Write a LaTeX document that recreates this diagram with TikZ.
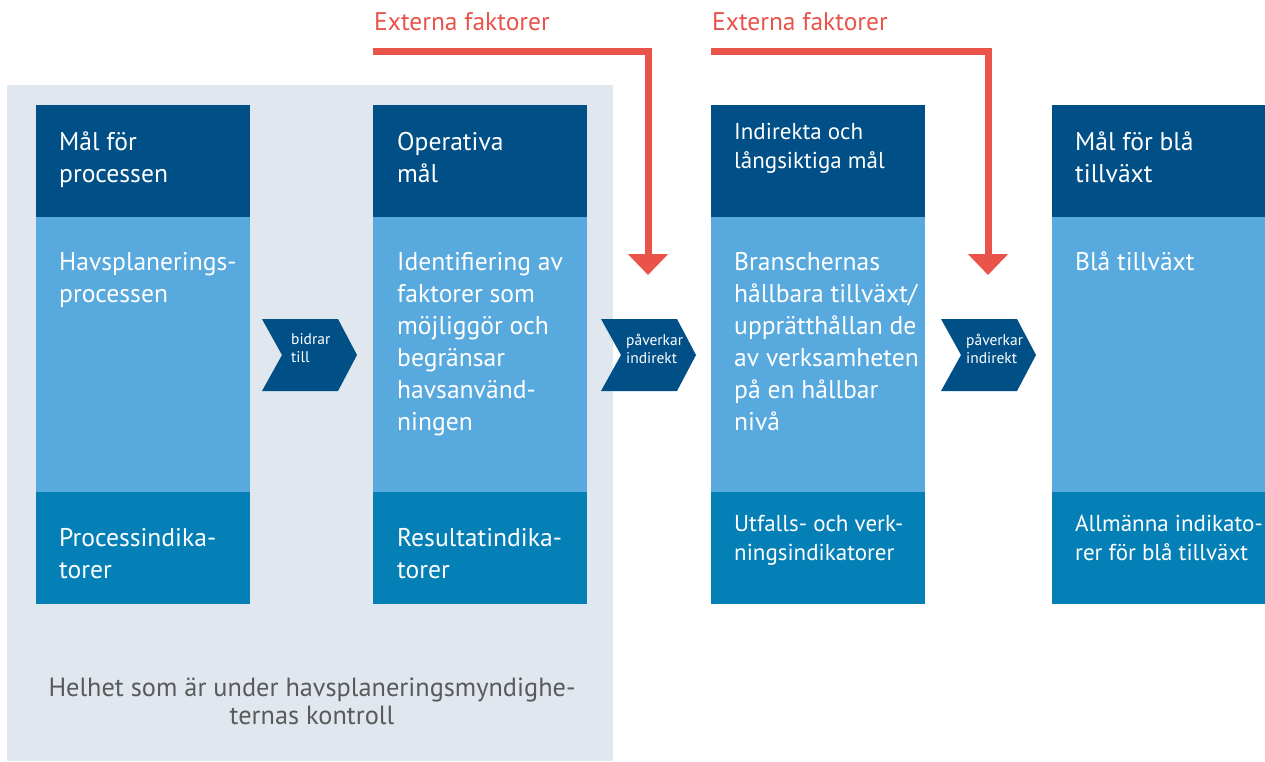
\documentclass[tikz,border=0pt]{standalone}
\usepackage{fontspec}
\setmainfont{PT Sans}
\usetikzlibrary{arrows.meta}
\definecolor{bggray}{HTML}{E1E7EE}
\definecolor{hdblue}{HTML}{005087}
\definecolor{midblue}{HTML}{58A9DE}
\definecolor{botblue}{HTML}{0580B7}
\definecolor{extred}{HTML}{E9534A}
\definecolor{ctrlgray}{HTML}{5A5A5A}
\tikzset{
  txt/.style={anchor=base west, inner sep=0pt, align=left, text=white, font=\fontsize{25.6}{32}\selectfont},
  smtxt/.style={anchor=base west, inner sep=0pt, align=left, text=white, font=\fontsize{23}{29}\selectfont},
  chevtxt/.style={anchor=base west, inner sep=0pt, align=left, text=white, font=\fontsize{15.5}{18}\selectfont},
  chev/.style={fill=hdblue},
  redtxt/.style={anchor=base west, inner sep=0pt, text=extred, font=\fontsize{25.5}{28}\selectfont},
  redarrow/.style={draw=extred, line width=7pt, -{Triangle[width=39pt,length=21pt]}},
}
\begin{document}
\begin{tikzpicture}[x=1pt,y=-1pt]
\useasboundingbox (0,0) rectangle (1265,761);
% gray area
\fill[bggray] (7,85) rectangle (613,761);
% columns
\foreach \xx in {36,373,711,1052}{
  \fill[hdblue] (\xx,105) rectangle ++(214,112);
  \fill[midblue] (\xx,217) rectangle ++(214,275);
  \fill[botblue] (\xx,492) rectangle ++(214,112);
}
% (multi-line nodes: base anchor = baseline of last line)
% column 1
\node[txt] (c1h) at (59,182) {Mål för\\processen};
\node[txt] (c1m) at (59,302) {Havsplanerings-\\processen};
\node[txt] (c1b) at (59,578) {Processindika-\\torer};
% column 2
\node[txt] (c2h) at (397,182) {Operativa\\mål};
\node[txt] (c2m) at (397,430) {Identifiering av\\faktorer som\\möjliggör och\\begränsar\\havsanvänd-\\ningen};
\node[txt] (c2b) at (397,578) {Resultatindika-\\torer};
% column 3
\node[smtxt] (c3h) at (734,168) {Indirekta och\\långsiktiga mål};
\node[txt] (c3m) at (734,430) {Branschernas\\hållbara tillväxt/\\upprätthållan de\\av verksamheten\\på en hållbar\\nivå};
\node[smtxt] (c3b) at (734,560) {Utfalls- och verk-\\ningsindikatorer};
% column 4
\node[txt] (c4h) at (1075,182) {Mål för blå\\tillväxt};
\node[txt] (c4m) at (1075,270) {Blå tillväxt};
\node[smtxt] (c4b) at (1075,560) {Allmänna indikato-\\rer för blå tillväxt};
% chevrons
\fill[chev] (262,319) -- (338,319) -- (357,355) -- (338,391) -- (262,391) -- (282,355) -- cycle;
\node[chevtxt] (ch1) at (291,362) {bidrar\\till};
\fill[chev] (601,319) -- (677,319) -- (696,355) -- (677,391) -- (601,391) -- (621,355) -- cycle;
\node[chevtxt] (ch2) at (626,363) {påverkar\\indirekt};
\fill[chev] (941,319) -- (1017,319) -- (1036,355) -- (1017,391) -- (941,391) -- (961,355) -- cycle;
\node[chevtxt] (ch3) at (966,363) {påverkar\\indirekt};
% external factors
\node[redtxt] (e1) at (374,30) {Externa faktorer};
\node[redtxt] (e2) at (712,30) {Externa faktorer};
\coordinate (e1s) at (373,51.5);
\coordinate (e1c) at (648,51.5);
\coordinate (e1t) at (648,275);
\coordinate (e2s) at (711,51.5);
\coordinate (e2c) at (988,51.5);
\coordinate (e2t) at (988,275);
\draw[redarrow] (e1s) -- (e1c) -- (e1t);
\draw[redarrow] (e2s) -- (e2c) -- (e2t);
% control label
\node[anchor=base, inner sep=0pt, align=center, text=ctrlgray, font=\fontsize{26.3}{28}\selectfont] (ctrl) at (312,724) {Helhet som är under havsplaneringsmyndighe-\\ternas kontroll};
\end{tikzpicture}
\end{document}
